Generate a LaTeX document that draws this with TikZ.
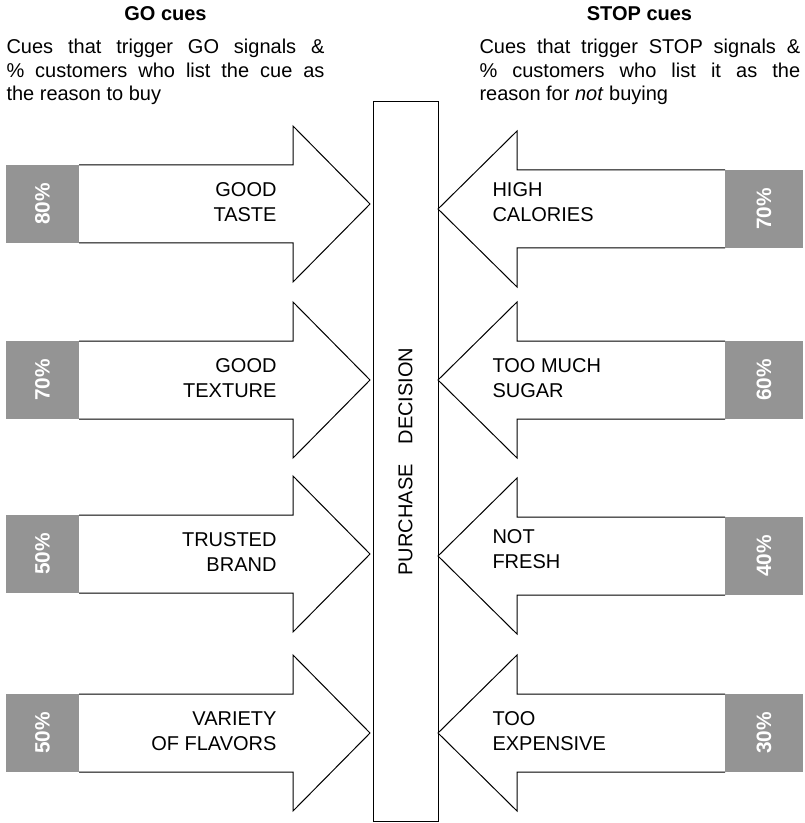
\documentclass[tikz,border=0pt]{standalone}
\usepackage{fontspec}
\setmainfont{Liberation Sans}
\definecolor{pctgray}{RGB}{148,148,148}
\begin{document}
\begin{tikzpicture}[x=0.75pt,y=-0.75pt,line width=0.75pt,line join=miter,
  txt/.style={inner sep=0pt,font=\fontsize{15}{18.4}\selectfont},
  ttl/.style={inner sep=0pt,font=\fontsize{15}{18.4}\selectfont\bfseries},
  pcttxt/.style={inner sep=0pt,text=white,font=\fontsize{15.6}{18}\selectfont\bfseries,rotate=90},
  cue/.style={draw=black,line width=0.75pt}]
\useasboundingbox (0,0) rectangle (805,823);
\fill[white] (0,0) rectangle (805,823);

% column headings
\node[ttl,anchor=base] (gotitle) at (165.5,21) {GO cues};
\node[txt,anchor=base west] (goa) at (6,54) {\makebox[238.5pt][s]{Cues that trigger GO signals \&}};
\node[txt,anchor=base west] (gob) at (6,77.5) {\makebox[238.5pt][s]{\% customers who list the cue as}};
\node[txt,anchor=base west] (goc) at (6,101) {the reason to buy};

\node[ttl,anchor=base] (stoptitle) at (639.5,21) {STOP cues};
\node[txt,anchor=base west] (sta) at (479,54) {\makebox[240.5pt][s]{Cues that trigger STOP signals \&}};
\node[txt,anchor=base west] (stb) at (479,77.5) {\makebox[240.5pt][s]{\% customers who list it as the}};
\node[txt,anchor=base west] (stc) at (479,101) {reason for \textit{not} buying};

% central decision bar
\draw (373,102) rectangle (438,821);
\node[txt,rotate=90] (decision) at (405.5,461.5) {PURCHASE\hspace{15pt}DECISION};

% GO arrows (pointing right)
\foreach \c/\p/\lbl/\n in {204/80/{GOOD\\TASTE}/a,380/70/{GOOD\\TEXTURE}/b,
                           554/50/{TRUSTED\\BRAND}/c,733/50/{VARIETY\\OF FLAVORS}/d}{
  \draw[cue] (79,\c-39) -- (293,\c-39) -- (293,\c-78) -- (370,\c)
             -- (293,\c+78) -- (293,\c+39) -- (79,\c+39);
  \fill[pctgray] (6,\c-39) rectangle (79,\c+39);
  \node[pcttxt] (gp\n) at (42.5,\c) {\p\%};
  \node[txt,align=right,anchor=east] (gl\n) at (277,\c-2) {\lbl};
}

% STOP arrows (pointing left)
\foreach \c/\t/\p/\lbl/\n in {209/202/70/{HIGH\\CALORIES}/a,380/378/60/{TOO MUCH\\SUGAR}/b,
                              556/549/40/{NOT\\FRESH}/c,733/731/30/{TOO\\EXPENSIVE}/d}{
  \draw[cue] (725,\c-39) -- (517,\c-39) -- (517,\c-78) -- (438,\c)
             -- (517,\c+78) -- (517,\c+39) -- (725,\c+39);
  \fill[pctgray] (725,\c-39) rectangle (803,\c+39);
  \node[pcttxt] (sp\n) at (764,\c) {\p\%};
  \node[txt,align=left,anchor=west] (sl\n) at (492,\t) {\lbl};
}
\end{tikzpicture}
\end{document}
